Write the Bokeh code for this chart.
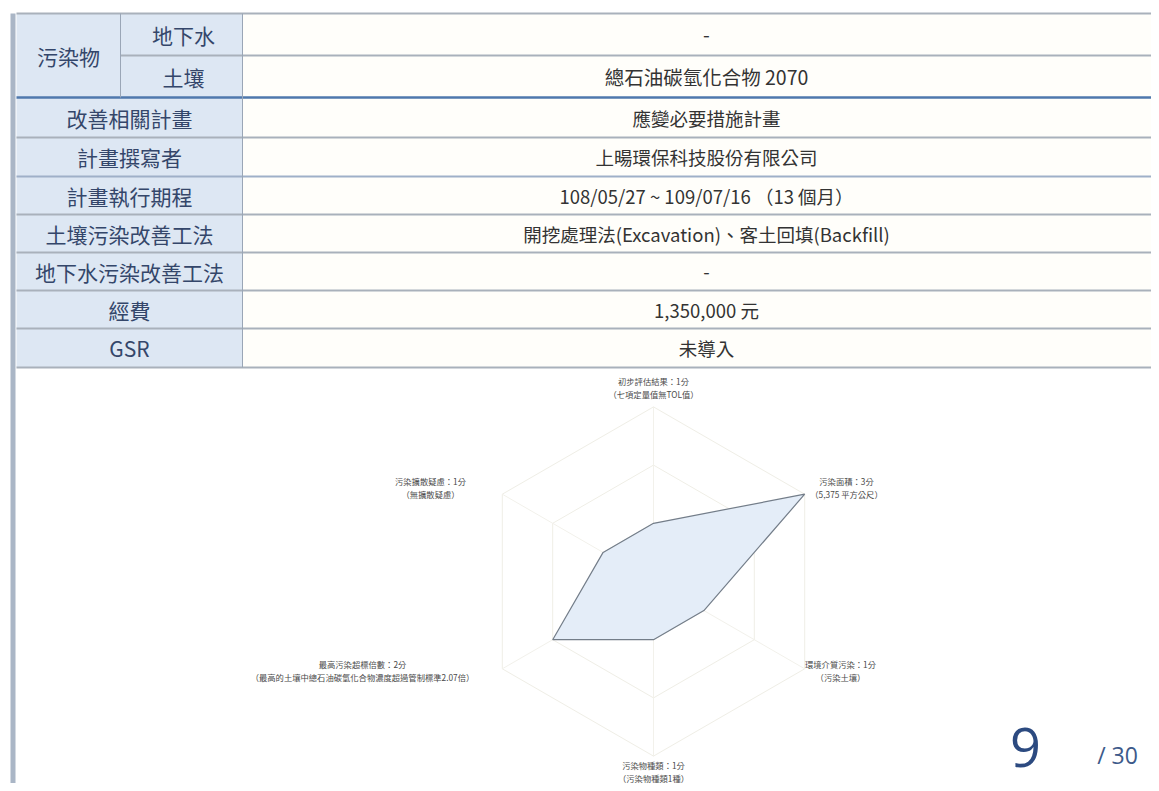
import math
from bokeh.plotting import figure
from bokeh.models import Range1d
from bokeh.core.properties import value
from bokeh.embed import file_html
from bokeh.resources import INLINE

# ---------------- data ----------------
pollutant_sub = ["地下水", "土壤"]
pollutant_vals = ["-", "總石油碳氫化合物 2070"]
header_labels = ["改善相關計畫", "計畫撰寫者", "計畫執行期程", "土壤污染改善工法",
                 "地下水污染改善工法", "經費", "GSR"]
header_vals = ["應變必要措施計畫", "上暘環保科技股份有限公司",
               "108/05/27 ~ 109/07/16 （13 個月）",
               "開挖處理法(Excavation)、客土回填(Backfill)", "-",
               "1,350,000 元", "未導入"]

radar_titles = ["初步評估結果：1分", "污染面積：3分", "環境介質污染：1分",
                "污染物種類：1分", "最高污染超標倍數：2分", "污染擴散疑慮：1分"]
radar_notes = ["（七項定量值無TOL值）", "（5,375 平方公尺）", "（污染土壤）",
               "（污染物種類1種）", "（最高的土壤中總石油碳氫化合物濃度超過管制標準2.07倍）",
               "（無擴散疑慮）"]
radar_scores = [1, 3, 1, 1, 2, 1]
radar_max = 3
page_no = "9"
page_total = "/ 30"

# ---------------- figure ----------------
W, H = 1151, 783
p = figure(width=W, height=H, x_range=Range1d(0, W), y_range=Range1d(H, 0),
           output_backend="svg", toolbar_location=None, min_border=0)
p.axis.visible = False
p.grid.visible = False
p.outline_line_color = None
p.background_fill_color = "white"
p.border_fill_color = "white"

FONT = value("Noto Sans CJK TC")
rows = [13, 55, 97, 137, 176, 214, 252, 290, 328, 367]
XL, XS, XH, XR = 16, 120, 242, 1151

# header column fill
p.quad(left=[XL], right=[XH], top=[rows[0]], bottom=[rows[-1]],
       fill_color="#dde7f3", line_color=None)
# faint tint on value column
p.quad(left=[XH], right=[XR], top=[rows[0]], bottom=[rows[-1]],
       fill_color="#fffefa", line_color=None)

# horizontal lines
for i, y in enumerate(rows):
    x0 = XS if i == 1 else XL
    col = "#4f78ad" if y == 97 else ("#9fb0c8" if y == 176 else "#a9b1bb")
    lw = 2.5 if y == 97 else 2
    p.line([x0, XR], [y, y], line_color=col, line_width=lw)
# vertical lines
p.line([XS, XS], [rows[0], rows[2]], line_color="#9aa6b6", line_width=1)
p.line([XH, XH], [rows[0], rows[-1]], line_color="#9aa6b6", line_width=1)
# left border bar
p.quad(left=[10], right=[15], top=[rows[0]], bottom=[H], fill_color="#aab6c6", line_color=None)

HCOL = "#34466a"
VCOL = "#333333"
# pollutant block
p.text(x=[(XL + XS) / 2], y=[(rows[0] + rows[2]) / 2], text=["污染物"], text_font=FONT,
       text_font_size="21px", text_color=HCOL, text_align="center", text_baseline="middle")
sx = [(XS + XH) / 2 + 2] * 2
sy = [(rows[i] + rows[i + 1]) / 2 for i in range(2)]
p.text(x=sx, y=sy, text=pollutant_sub, text_font=FONT, text_font_size="21px",
       text_color=HCOL, text_align="center", text_baseline="middle")
vx = (XH + 1170) / 2
p.text(x=[vx] * 2, y=sy, text=pollutant_vals, text_font=FONT, text_font_size="19.5px",
       text_color=VCOL, text_align="center", text_baseline="middle")
hy = [(rows[i] + rows[i + 1]) / 2 for i in range(2, len(rows) - 1)]
p.text(x=[(XL + XH) / 2] * len(header_labels), y=hy, text=header_labels, text_font=FONT,
       text_font_size="21px", text_color=HCOL, text_align="center", text_baseline="middle")
p.text(x=[vx] * len(header_vals), y=hy, text=header_vals, text_font=FONT,
       text_font_size="18.5px", text_color=VCOL, text_align="center", text_baseline="middle")

# ---------------- radar ----------------
cx, cy, R = 653, 581, 174.6
n = len(radar_scores)
angles = [math.pi / 2 - i * 2 * math.pi / n for i in range(n)]

for lvl in range(1, radar_max + 1):
    r = R * lvl / radar_max
    xs = [cx + r * math.cos(a) for a in angles] + [cx + r * math.cos(angles[0])]
    ys = [cy - r * math.sin(a) for a in angles] + [cy - r * math.sin(angles[0])]
    p.line(xs, ys, line_color="#efeee6", line_width=1)
for a in angles:
    p.line([cx, cx + R * math.cos(a)], [cy, cy - R * math.sin(a)], line_color="#f2f1eb", line_width=1)

px = [cx + R * s / radar_max * math.cos(a) for s, a in zip(radar_scores, angles)]
py = [cy - R * s / radar_max * math.sin(a) for s, a in zip(radar_scores, angles)]
p.patch(px, py, fill_color="#e4edf8", fill_alpha=1, line_color="#737d89", line_width=1.2)

# label positions
lab_x = [653, 846, 840, 653, 362, 430]
lab_y = [380, 480, 663, 764, 663, 480]
p.text(x=lab_x, y=lab_y, text=radar_titles, text_font=FONT, text_font_size="8.3px",
       text_color="#4a4a4a", text_align="center", text_baseline="middle")
p.text(x=lab_x, y=[v + 13 for v in lab_y], text=radar_notes, text_font=FONT,
       text_font_size="8.3px", text_color="#4a4a4a", text_align="center", text_baseline="middle")

# page number
p.text(x=[1025], y=[766], text=[page_no], text_font=value("Open Sans"), text_font_size="54px",
       text_color="#2c4a80", text_align="center", text_baseline="bottom")
p.text(x=[1117], y=[770], text=[page_total], text_font=value("Open Sans"), text_font_size="23px",
       text_color="#3d5a8a", text_align="center", text_baseline="bottom")

open("out.html", "w").write(file_html(p, INLINE))
